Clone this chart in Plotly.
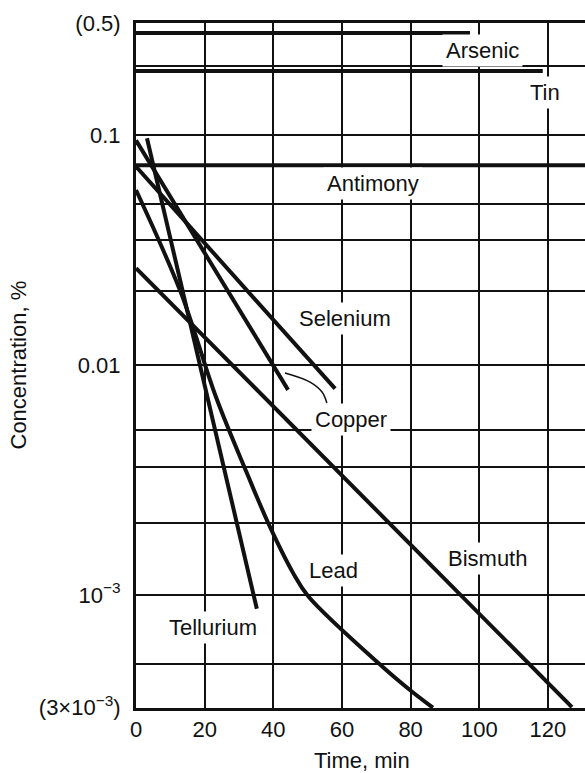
import math
import plotly.graph_objects as go

# ---------------- data ----------------
time_arsenic = [0, 97.3]
conc_arsenic = [0.278, 0.278]

time_tin = [0, 118.5]
conc_tin = [0.19, 0.19]

time_antimony = [0, 131]
conc_antimony = [0.074, 0.074]

time_selenium = [0, 58.0]
conc_selenium = [0.073, 0.0079]

time_copper = [0, 44.3]
conc_copper = [0.095, 0.0078]

time_tellurium = [3.2, 35.2]
conc_tellurium = [0.097, 0.00087]

time_lead = [0, 13.1, 23.3, 32.3, 39.0, 45.7, 50.1, 71.9, 79.8, 86.5]
conc_lead = [0.0577, 0.0206, 0.00726, 0.00339, 0.00198, 0.00125,
             0.00099, 0.000486, 0.000386, 0.000323]

time_bismuth = [0, 127.0]
conc_bismuth = [0.0264, 0.000325]

# bracket linking the "Copper" label
arc_time = [43.4, 50.7, 54.2, 55.6]
arc_conc = [0.00923, 0.00843, 0.00763, 0.00684]

label_text = ["Arsenic", "Tin", "Antimony", "Selenium", "Copper",
              "Lead", "Bismuth", "Tellurium"]
label_time = [101.0, 119.1, 69.0, 60.9, 62.6, 57.4, 102.5, 22.5]
label_conc = [0.234, 0.154, 0.0618, 0.016, 0.00577, 0.00128, 0.001435, 0.00072]

x_ticks = [0, 20, 40, 60, 80, 100, 120]
y_ticks = [0.3070, 0.1, 0.01, 0.001, 0.000323]
y_ticktext = ["(0.5)", "0.1", "0.01", "10<sup>\u22123</sup>", "(3\u00d710<sup>\u22123</sup>)"]
y_extra_grid = [0.2, 0.05, 0.035, 0.021, 0.0052, 0.0036, 0.00205, 0.0005]

x_range = [0, 130.8]
y_log_range = [-3.492, -0.512]

# ---------------- figure ----------------
FONT = "Liberation Sans, Arial, Helvetica, sans-serif"
INK = "#111111"
FS = 22
fig = go.Figure()

series = [
    (time_arsenic, conc_arsenic, "linear"),
    (time_tin, conc_tin, "linear"),
    (time_antimony, conc_antimony, "linear"),
    (time_selenium, conc_selenium, "linear"),
    (time_copper, conc_copper, "linear"),
    (time_tellurium, conc_tellurium, "linear"),
    (time_lead, conc_lead, "spline"),
    (time_bismuth, conc_bismuth, "linear"),
]
for tx, cy, shape in series:
    fig.add_trace(go.Scatter(x=tx, y=cy, mode="lines",
                             line=dict(color=INK, width=4, shape=shape, smoothing=1.0),
                             showlegend=False, hoverinfo="skip"))

fig.add_trace(go.Scatter(x=arc_time, y=arc_conc, mode="lines",
                         line=dict(color=INK, width=1.5, shape="spline"),
                         showlegend=False, hoverinfo="skip"))

# annotations on a log axis take log10 positions
for t, x, y in zip(label_text, label_time, label_conc):
    fig.add_annotation(x=x, y=math.log10(y), yref="y", xref="x", text=t, showarrow=False,
                       font=dict(family=FONT, size=FS, color=INK),
                       bgcolor="white", borderpad=3, xanchor="center", yanchor="middle")

# axis titles
fig.add_annotation(xref="paper", yref="paper", x=0, y=0.5, xshift=-118,
                   text="Concentration, %", textangle=-90, showarrow=False,
                   font=dict(family=FONT, size=FS, color=INK),
                   xanchor="center", yanchor="middle")
fig.add_annotation(xref="paper", yref="paper", x=0.503, y=0, yshift=-52,
                   text="Time, min", showarrow=False,
                   font=dict(family=FONT, size=FS, color=INK),
                   xanchor="center", yanchor="middle")

fig.update_xaxes(range=x_range, tickvals=x_ticks, ticktext=[str(v) for v in x_ticks],
                 showgrid=True, gridcolor=INK, gridwidth=2, zeroline=False,
                 showline=True, linecolor=INK, linewidth=3, mirror=True,
                 ticks="", ticklabelstandoff=0,
                 tickfont=dict(family=FONT, size=FS, color=INK))
fig.update_yaxes(type="log", range=y_log_range, tickvals=y_ticks, ticktext=y_ticktext,
                 showgrid=True, gridcolor=INK, gridwidth=2, zeroline=False,
                 showline=True, linecolor=INK, linewidth=3,
                 ticks="", ticklabelstandoff=8,
                 minor=dict(tickvals=y_extra_grid, showgrid=True, gridcolor=INK,
                            gridwidth=2, ticks=""),
                 tickfont=dict(family=FONT, size=FS, color=INK))

fig.update_layout(width=585, height=773, margin=dict(l=136, r=0, t=23, b=65),
                  plot_bgcolor="white", paper_bgcolor="white")

fig.write_html("out.html")
